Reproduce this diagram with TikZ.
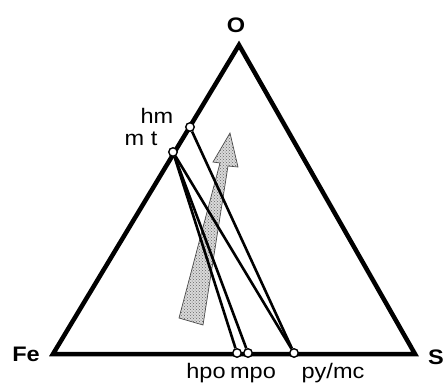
\documentclass[tikz,border=0pt]{standalone}
\usepackage{fontspec}
\newfontfamily\lblfont[FakeStretch=1.12]{Liberation Sans}
\usetikzlibrary{positioning,patterns}

\tikzset{
  phase/.style={circle, draw, fill=white, line width=1.4pt, inner sep=0pt, minimum size=8.5pt},
  tie/.style={line width=2.6pt},
  lbl/.style={font=\lblfont\fontsize{21}{21}\selectfont, anchor=base, inner sep=0pt},
  corner/.style={lbl, font=\lblfont\bfseries\fontsize{21}{21}\selectfont},
}

\begin{document}
\begin{tikzpicture}[x=1pt, y=-1pt]
\useasboundingbox (0,0) rectangle (443,386);

%%% 三角形
\coordinate (Fe) at (53,354);
\coordinate (S) at (415,354);
\coordinate (O) at (239,45);

%% 矢印
\fill[gray!30]
  (179,318) -- (220,163) -- (213,162) -- (230,133) -- (238,167) -- (228,166) -- (203,325) -- cycle;
\draw[pattern=crosshatch dots, pattern color=gray!80!black, draw=black!70, line width=0.7pt]
  (179,318) -- (220,163) -- (213,162) -- (230,133) -- (238,167) -- (228,166) -- (203,325) -- cycle;

\draw[line width=4.5pt, line join=miter] (Fe) -- (O) -- (S) -- cycle;

%% 点
\node[phase] (hm) at (190,127) {};
\node[phase] (mt) at (173,152) {};
\node[phase] (hpo) at (237,353) {};
\node[phase] (mpo) at (248,353) {};
\node[phase] (py) at (294,353) {};

%% 線
\draw[tie] (mt) -- (hpo);
\draw[tie] (mt) -- (mpo);
\draw[tie] (mt) -- (py);
\draw[tie] (hm) -- (py);

%% 名前
\node[corner] (lO) at (236,32) {O};
\node[corner] (lFe) at (26,361) {Fe};
\node[corner] (lS) at (436,364) {S};

\node[lbl] (lhm) at (157,123) {hm};
\node[lbl] (lmt) at (141,145) {m t};
\node[lbl] (lhpo) at (206,378) {hpo};
\node[lbl] (lmpo) at (253,378) {mpo};
\node[lbl] (lpy) at (333,378) {py/mc};

\end{tikzpicture}
\end{document}
